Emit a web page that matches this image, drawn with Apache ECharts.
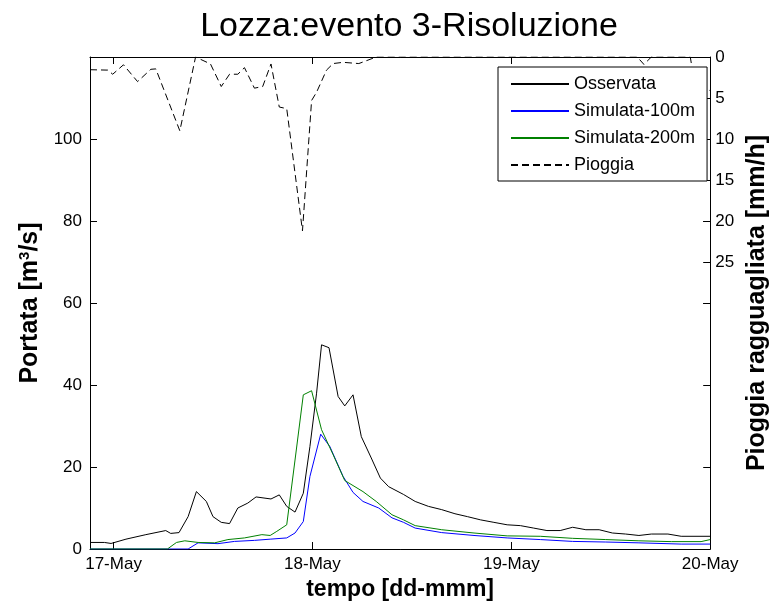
<!DOCTYPE html>
<html>
<head>
<meta charset="utf-8">
<title>Lozza:evento 3-Risoluzione</title>
<script src="https://cdn.jsdelivr.net/npm/echarts@6/dist/echarts.min.js"></script>
<style>
  html, body { margin: 0; padding: 0; background: #fff; }
  #main { width: 778px; height: 608px; }
</style>
</head>
<body>
<div id="main"></div>
<script>
// ore a partire dal 17-May 00:00
var obsHours = [-2.84, -1.1, -0.3, 1.5, 3.9, 6.3, 6.9, 7.9, 9.0, 10.0, 11.2, 12.0, 13.0, 14.0, 15.0, 16.2, 17.2, 19.0, 20.0, 20.9,
                21.9, 22.9, 23.7, 24.5, 25.1, 26.0, 27.1, 27.9, 28.9, 29.9, 31.1, 32.2, 33.2, 35.0, 36.4, 38.0, 39.6, 41.2, 42.7, 44.3,
                45.9, 47.5, 49.1, 50.7, 52.3, 53.9, 55.4, 57.0, 58.6, 60.2, 61.8, 63.4, 64.9, 66.9, 68.5, 72.0];
var obsFlow  = [1.6, 1.6, 1.35, 2.4, 3.5, 4.5, 3.8, 4.0, 7.9, 14.0, 11.6, 7.9, 6.5, 6.2, 10.0, 11.2, 12.7, 12.2, 13.2, 10.4,
                9.0, 13.6, 25.0, 38.0, 49.8, 49.1, 37.2, 34.9, 37.6, 27.4, 22.2, 17.3, 15.2, 13.3, 11.6, 10.4, 9.6, 8.6, 7.9, 7.1,
                6.5, 5.9, 5.7, 5.1, 4.5, 4.5, 5.3, 4.7, 4.7, 3.9, 3.65, 3.3, 3.65, 3.65, 3.1, 3.1];

var sim100Hours = [-2.84, 9.0, 10.2, 12.6, 14.6, 17.0, 18.9, 20.9, 21.9, 22.9, 23.7, 25.0, 26.1, 27.7, 28.9, 30.1, 32.0, 33.6,
                   35.0, 36.4, 39.6, 43.5, 47.5, 51.5, 55.4, 59.4, 63.4, 68.5, 72.0];
var sim100Flow  = [0, 0, 1.5, 1.3, 1.85, 2.1, 2.4, 2.7, 3.9, 6.7, 17.7, 28.0, 25.0, 17.7, 13.8, 11.6, 10.0, 7.6,
                   6.5, 5.1, 4.0, 3.3, 2.7, 2.3, 1.85, 1.7, 1.5, 1.2, 1.2];

var sim200Hours = [-2.84, 6.5, 7.6, 8.6, 10.2, 12.2, 13.8, 15.8, 17.9, 18.9, 19.7, 20.9, 21.9, 22.9, 23.9, 25.1, 26.5, 27.9,
                   30.1, 31.7, 33.6, 35.0, 36.4, 39.6, 43.5, 47.5, 51.5, 55.4, 59.4, 63.4, 67.3, 70.9, 72.0];
var sim200Flow  = [0, 0, 1.6, 2.0, 1.6, 1.5, 2.3, 2.7, 3.5, 3.3, 4.3, 5.9, 21.7, 37.6, 38.6, 29.1, 23.0, 16.7,
                   14.0, 11.6, 8.35, 7.1, 5.7, 4.7, 3.9, 3.2, 3.1, 2.6, 2.3, 2.0, 1.8, 1.8, 2.3];

var rainHours = [-2.84, -0.7, -0.1, 1.2, 2.9, 4.5, 5.1, 8.0, 9.9, 11.7, 13.0, 14.0, 15.0, 15.8, 17.0, 18.0, 19.0, 20.0,
                 20.9, 22.8, 23.9, 24.5, 25.7, 26.5, 27.7, 29.6, 31.7, 63.2, 64.0, 64.9, 69.6, 70.7, 71.4, 72.0];
var rainRate  = [1.55, 1.6, 2.1, 0.95, 3.0, 1.5, 1.45, 9.0, 0, 0.85, 3.6, 2.1, 2.1, 1.3, 3.8, 3.6, 0.85, 6.1,
                 6.3, 21.2, 5.3, 4.3, 1.6, 0.8, 0.65, 0.8, 0, 0, 0.9, 0, 0, 6.9, 3.9, 4.1];

var dayTicks  = [0, 24, 48, 72];
var dayLabels = ['17-May', '18-May', '19-May', '20-May'];
var flowTicks = [0, 20, 40, 60, 80, 100];
var rainTicks = [0, 5, 10, 15, 20, 25, 30];
var rainLabels = [0, 5, 10, 15, 20, 25];

function zip(xs, ys) {
  return xs.map(function (x, i) { return [x, ys[i]]; });
}

var FONT = "'Liberation Sans', Arial, sans-serif";
var tickStyle = { inside: true, length: 7, lineStyle: { color: '#000', width: 1 } };
var lineAx = { show: true, onZero: false, lineStyle: { color: '#000', width: 1 } };

var myChart = echarts.init(document.getElementById('main'));
myChart.setOption({
  animation: false,
  backgroundColor: '#fff',
  title: {
    text: 'Lozza:evento 3-Risoluzione',
    left: 404,
    top: 5,
    textAlign: 'center',
    textStyle: { fontFamily: FONT, fontSize: 34, fontWeight: 'normal', color: '#000' }
  },
  grid: { left: 90, right: 60, top: 57, bottom: 59 },
  legend: {
    orient: 'vertical',
    left: 498,
    top: 67,
    padding: [7, 12, 6, 12],
    itemWidth: 58,
    itemHeight: 14,
    itemGap: 7,
    backgroundColor: '#fff',
    borderColor: '#000',
    borderWidth: 1,
    borderRadius: 0,
    itemStyle: { color: 'rgba(0,0,0,0)', borderWidth: 0, opacity: 0 },
    textStyle: { fontFamily: FONT, fontSize: 18, lineHeight: 20, color: '#000' },
    data: ['Osservata', 'Simulata-100m', 'Simulata-200m', 'Pioggia']
  },
  xAxis: [{
    type: 'value',
    min: -2.84,
    max: 72,
    position: 'bottom',
    axisLine: lineAx,
    axisTick: Object.assign({ customValues: dayTicks }, tickStyle),
    axisLabel: {
      customValues: dayTicks,
      margin: 7,
      fontFamily: FONT, fontSize: 17, color: '#000',
      formatter: function (v) { return dayLabels[dayTicks.indexOf(v)]; }
    },
    splitLine: { show: false },
    name: 'tempo [dd-mmm]',
    nameLocation: 'middle',
    nameGap: 23,
    nameTextStyle: { fontFamily: FONT, fontSize: 23, fontWeight: 'bold', color: '#000' }
  }, {
    type: 'value',
    min: -2.84,
    max: 72,
    position: 'top',
    axisLine: lineAx,
    axisTick: Object.assign({ customValues: dayTicks }, tickStyle),
    axisLabel: { show: false },
    splitLine: { show: false }
  }],
  yAxis: [{
    type: 'value',
    min: 0,
    max: 120,
    interval: 20,
    position: 'left',
    axisLine: lineAx,
    axisTick: tickStyle,
    axisLabel: { customValues: flowTicks, margin: 8, fontFamily: FONT, fontSize: 17, color: '#000' },
    splitLine: { show: false },
    name: 'Portata [m{sup|3}/s]',
    nameLocation: 'middle',
    nameGap: 46,
    nameTextStyle: {
      fontFamily: FONT, fontSize: 25, fontWeight: 'bold', color: '#000',
      rich: { sup: { fontFamily: FONT, fontSize: 15, color: '#000', verticalAlign: 'top', padding: [0, 0, 10, 0] } }
    }
  }, {
    type: 'value',
    min: 0,
    max: 60,
    inverse: true,
    position: 'right',
    axisLine: lineAx,
    axisTick: Object.assign({ customValues: rainTicks }, tickStyle),
    axisLabel: { customValues: rainLabels, margin: 5, fontFamily: FONT, fontSize: 17, color: '#000' },
    splitLine: { show: false },
    name: 'Pioggia ragguagliata [mm/h]',
    nameLocation: 'middle',
    nameGap: 27,
    nameTextStyle: { fontFamily: FONT, fontSize: 25, fontWeight: 'bold', color: '#000' }
  }, {
    // tacche della portata ripetute sul lato destro
    type: 'value',
    min: 0,
    max: 120,
    interval: 20,
    position: 'right',
    axisLine: { show: false, onZero: false },
    axisTick: tickStyle,
    axisLabel: { show: false },
    splitLine: { show: false }
  }],
  series: [{
    name: 'Osservata',
    type: 'line',
    symbol: 'none',
    xAxisIndex: 0,
    yAxisIndex: 0,
    color: '#000',
    lineStyle: { color: '#000', width: 1 },
    data: zip(obsHours, obsFlow)
  }, {
    name: 'Simulata-100m',
    type: 'line',
    symbol: 'none',
    xAxisIndex: 0,
    yAxisIndex: 0,
    color: '#0000ff',
    lineStyle: { color: '#0000ff', width: 1 },
    data: zip(sim100Hours, sim100Flow)
  }, {
    name: 'Simulata-200m',
    type: 'line',
    symbol: 'none',
    xAxisIndex: 0,
    yAxisIndex: 0,
    color: '#008000',
    lineStyle: { color: '#008000', width: 1 },
    data: zip(sim200Hours, sim200Flow)
  }, {
    name: 'Pioggia',
    type: 'line',
    symbol: 'none',
    xAxisIndex: 0,
    yAxisIndex: 1,
    color: '#000',
    lineStyle: { color: '#000', width: 1, type: [7, 4] },
    data: zip(rainHours, rainRate)
  }]
});
</script>
</body>
</html>
